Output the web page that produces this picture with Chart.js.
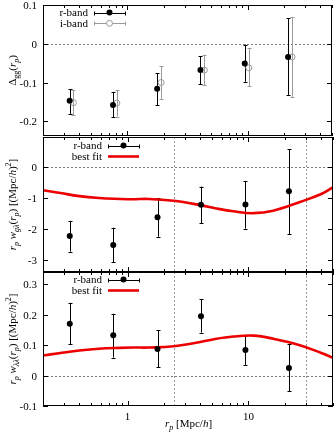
<!DOCTYPE html>
<html>
<head>
<meta charset="utf-8">
<script src="https://cdn.jsdelivr.net/npm/chart.js@4.4.1/dist/chart.umd.min.js"></script>
<style>
  html, body { margin: 0; padding: 0; background: #fff; }
  #wrap { position: relative; width: 336px; height: 432px; }
  canvas { position: absolute; left: 0; }
</style>
</head>
<body>
<div id="wrap">
  <canvas id="c1" width="336" height="140" style="top:0px"></canvas>
  <canvas id="c2" width="336" height="141" style="top:134px"></canvas>
  <canvas id="c3" width="336" height="163" style="top:269px"></canvas>
</div>
<script>
// projected separation bins (Mpc/h)
const rpR = [0.333, 0.762, 1.77, 4.05, 9.44, 21.6];
const rpI = [0.358, 0.82, 1.91, 4.37, 10.2, 23.3];

// top panel: Delta_gg
const deltaR   = [-0.147, -0.158, -0.116, -0.068, -0.051, -0.034];
const deltaRlo = [-0.181, -0.190, -0.158, -0.104, -0.098, -0.132];
const deltaRhi = [-0.117, -0.124, -0.076, -0.032, -0.002, 0.066];
const deltaI   = [-0.152, -0.153, -0.100, -0.068, -0.062, -0.034];
const deltaIlo = [-0.184, -0.188, -0.142, -0.107, -0.110, -0.137];
const deltaIhi = [-0.120, -0.120, -0.058, -0.028, -0.012, 0.069];

// middle panel: r_p w_g lambda
const wgl   = [-2.23, -2.52, -1.62, -1.22, -1.21, -0.78];
const wglLo = [-2.73, -3.08, -2.25, -1.82, -1.99, -2.17];
const wglHi = [-1.74, -1.96, -1.00, -0.63, -0.45, 0.58];

// bottom panel: r_p w_lambda lambda
const wll   = [0.170, 0.132, 0.087, 0.195, 0.084, 0.025];
const wllLo = [0.103, 0.059, 0.028, 0.141, 0.035, -0.052];
const wllHi = [0.239, 0.203, 0.148, 0.250, 0.129, 0.102];

// best fit curves
const fitRp  = [0.2, 0.27, 0.4, 0.58, 0.86, 1.1, 1.5, 2.4, 4.0, 5.3, 7.5, 11, 16, 27, 40, 50];
const fitWgl = [-0.75, -0.83, -0.94, -1.00, -1.03, -1.04, -1.03, -1.09, -1.23, -1.33, -1.43, -1.49, -1.41, -1.12, -0.87, -0.65];
const fitWll = [0.066, 0.073, 0.082, 0.088, 0.091, 0.092, 0.092, 0.096, 0.110, 0.120, 0.128, 0.131, 0.121, 0.099, 0.074, 0.058];

// fit range limits
const cutLines = [2.4, 30];

const xTicks  = [1, 10];
const yTicks1 = [0.1, 0, -0.1, -0.2];
const yTicks2 = [0, -1, -2, -3];
const yTicks3 = [0.3, 0.2, 0.1, 0, -0.1];

const FONT = '"Liberation Serif", "DejaVu Serif", serif';
const RED = 'rgb(236,0,0)';
const GREY = '#9a9a9a';

function fontFor(s, size) {
  const sz = (s.sub || s.sup) ? Math.round(size * 0.75) : size;
  return (s.i ? 'italic ' : '') + sz + 'px ' + FONT;
}
function richWidth(ctx, segs, size) {
  let w = 0;
  segs.forEach(s => { ctx.font = fontFor(s, size); w += ctx.measureText(s.t).width; });
  return w;
}
function drawRich(ctx, segs, x, y, size) {
  segs.forEach(s => {
    ctx.font = fontFor(s, size);
    const dy = s.sub ? size * 0.3 : (s.sup ? -size * 0.42 : 0);
    ctx.fillText(s.t, x, y + dy);
    x += ctx.measureText(s.t).width;
  });
}

const unitSegs = [{t: ' [(Mpc/'}, {t: 'h', i: true}, {t: ')'}, {t: '2', sup: true}, {t: ']'}];
const title1 = [{t: 'Δ'}, {t: 'gg', sub: true}, {t: '('}, {t: 'r', i: true}, {t: 'p', i: true, sub: true}, {t: ')'}];
const title2 = [{t: 'r', i: true}, {t: 'p', i: true, sub: true}, {t: ' '}, {t: 'w', i: true}, {t: 'gλ', i: true, sub: true},
  {t: '('}, {t: 'r', i: true}, {t: 'p', i: true, sub: true}, {t: ')'}].concat(unitSegs);
const title3 = [{t: 'r', i: true}, {t: 'p', i: true, sub: true}, {t: ' '}, {t: 'w', i: true}, {t: 'λλ', i: true, sub: true},
  {t: '('}, {t: 'r', i: true}, {t: 'p', i: true, sub: true}, {t: ')'}].concat(unitSegs);
const xTitle = [{t: 'r', i: true}, {t: 'p', i: true, sub: true}, {t: ' [Mpc/'}, {t: 'h', i: true}, {t: ']'}];

const panels = [
  { id: 'c1', top: 5, bottom: 137, ymin: -0.238, ymax: 0.1, yTicks: yTicks1, title: title1, cuts: false, xLabels: false,
    series: [
      { x: rpR, y: deltaR, lo: deltaRlo, hi: deltaRhi, color: '#000', open: false, label: 'r-band' },
      { x: rpI, y: deltaI, lo: deltaIlo, hi: deltaIhi, color: GREY, open: true, label: 'i-band' }
    ],
    fit: null, legX: 88, legY: [7.5, 18.3] },
  { id: 'c2', top: 3, bottom: 138, ymin: -3.39, ymax: 0.97, yTicks: yTicks2, title: title2, cuts: true, xLabels: false,
    series: [ { x: rpR, y: wgl, lo: wglLo, hi: wglHi, color: '#000', open: false, label: 'r-band' } ],
    fit: fitWgl, legX: 102, legY: [8.5, 19.5] },
  { id: 'c3', top: 3, bottom: 137, ymin: -0.1, ymax: 0.34, yTicks: yTicks3, title: title3, cuts: true, xLabels: true,
    series: [ { x: rpR, y: wll, lo: wllLo, hi: wllHi, color: '#000', open: false, label: 'r-band' } ],
    fit: fitWll, legX: 102, legY: [7.5, 18.5] }
];

function hline(ctx, x1, x2, y) { ctx.beginPath(); ctx.moveTo(x1, y); ctx.lineTo(x2, y); ctx.stroke(); }
function vline(ctx, x, y1, y2) { ctx.beginPath(); ctx.moveTo(x, y1); ctx.lineTo(x, y2); ctx.stroke(); }

function panelPlugin(p) {
  return {
    id: 'panel_' + p.id,
    beforeDatasetsDraw(chart) {
      const { ctx, chartArea: a, scales: { x, y } } = chart;
      ctx.save();
      ctx.lineWidth = 1;
      ctx.setLineDash([2, 2]);
      ctx.strokeStyle = '#777';
      hline(ctx, a.left, a.right, Math.round(y.getPixelForValue(0)) + 0.5);
      if (p.cuts) {
        ctx.strokeStyle = '#999';
        cutLines.forEach(v => vline(ctx, Math.round(x.getPixelForValue(v)) + 0.5, a.top, a.bottom));
      }
      ctx.setLineDash([]);
      // error bars
      p.series.forEach(s => {
        ctx.strokeStyle = s.color;
        ctx.lineWidth = 1;
        s.x.forEach((xv, i) => {
          const px = Math.round(x.getPixelForValue(xv)) + 0.5;
          const ylo = y.getPixelForValue(s.lo[i]);
          const yhi = y.getPixelForValue(s.hi[i]);
          vline(ctx, px, ylo, yhi);
          hline(ctx, px - 2, px + 2, Math.round(ylo) + 0.5);
          hline(ctx, px - 2, px + 2, Math.round(yhi) + 0.5);
        });
      });
      ctx.restore();
    },
    afterDraw(chart) {
      const { ctx, chartArea: a, scales: { x, y } } = chart;
      ctx.save();
      // frame
      ctx.strokeStyle = '#000';
      ctx.lineWidth = 1;
      ctx.strokeRect(Math.round(a.left) + 0.5, Math.round(a.top) + 0.5,
        Math.round(a.right - a.left) - 1, Math.round(a.bottom - a.top) - 1);
      // log ticks on top and bottom
      for (let d = -1; d <= 2; d++) {
        for (let k = 1; k <= 9; k++) {
          const v = k * Math.pow(10, d);
          if (v < x.min || v > x.max) continue;
          const px = Math.round(x.getPixelForValue(v)) + 0.5;
          const len = k === 1 ? 5 : 3;
          vline(ctx, px, a.top, a.top + len);
          vline(ctx, px, a.bottom, a.bottom - len);
        }
      }
      // y ticks on both sides
      ctx.fillStyle = '#000';
      ctx.font = '11px ' + FONT;
      ctx.textAlign = 'right';
      p.yTicks.forEach(v => {
        const py = Math.round(y.getPixelForValue(v)) + 0.5;
        hline(ctx, a.left, a.left + 5, py);
        hline(ctx, a.right - 5, a.right, py);
        ctx.fillText(String(+v.toFixed(2)), a.left - 6, py + 3.5);
      });
      // x tick labels
      if (p.xLabels) {
        ctx.textAlign = 'center';
        xTicks.forEach(v => ctx.fillText(String(v), x.getPixelForValue(v), a.bottom + 13.5));
        ctx.textAlign = 'left';
        const w = richWidth(ctx, xTitle, 11);
        drawRich(ctx, xTitle, (a.left + a.right) / 2 + 0.5 - w / 2, a.bottom + 21, 11);
      }
      // y title
      ctx.textAlign = 'left';
      const tw = richWidth(ctx, p.title, 11);
      ctx.save();
      ctx.translate(15.5, (a.top + a.bottom) / 2);
      ctx.rotate(-Math.PI / 2);
      drawRich(ctx, p.title, -tw / 2, 0, 11);
      ctx.restore();
      // legend
      const entries = p.series.map(s => ({ label: s.label, s }));
      if (p.fit) entries.push({ label: 'best fit', fit: true });
      const sx1 = p.legX + 6, sx2 = p.legX + 37, sxm = (sx1 + sx2) / 2;
      entries.forEach((e, i) => {
        const ly = a.top + p.legY[i];
        ctx.fillStyle = '#000';
        ctx.font = '11px ' + FONT;
        ctx.textAlign = 'right';
        ctx.fillText(e.label, p.legX, ly + 3.5);
        const yy = Math.round(ly) + 0.5;
        if (e.fit) {
          ctx.strokeStyle = RED;
          ctx.lineWidth = 2.6;
          hline(ctx, sx1, sx2, ly);
        } else {
          ctx.strokeStyle = e.s.color;
          ctx.lineWidth = 1;
          hline(ctx, sx1, sx2, yy);
          vline(ctx, Math.round(sx1) + 0.5, yy - 2, yy + 2);
          vline(ctx, Math.round(sx2) + 0.5, yy - 2, yy + 2);
          ctx.beginPath();
          ctx.arc(sxm, ly, 3, 0, Math.PI * 2);
          if (e.s.open) {
            ctx.fillStyle = '#fff';
            ctx.fill();
            ctx.stroke();
          } else {
            ctx.fillStyle = e.s.color;
            ctx.fill();
          }
        }
      });
      ctx.restore();
    }
  };
}

function makeChart(p) {
  const canvas = document.getElementById(p.id);
  const datasets = p.series.map(s => ({
    label: s.label,
    data: s.x.map((v, i) => ({ x: v, y: s.y[i] })),
    showLine: false,
    pointRadius: 3,
    pointHoverRadius: 3,
    pointBackgroundColor: s.open ? 'rgba(255,255,255,0)' : s.color,
    pointBorderColor: s.color,
    pointBorderWidth: s.open ? 1 : 0
  }));
  if (p.fit) {
    datasets.push({
      label: 'best fit',
      data: fitRp.map((v, i) => ({ x: v, y: p.fit[i] })),
      showLine: true,
      borderColor: RED,
      borderWidth: 2.6,
      pointRadius: 0,
      tension: 0.4,
      fill: false
    });
  }
  return new Chart(canvas.getContext('2d'), {
    type: 'scatter',
    data: { datasets },
    options: {
      responsive: false,
      animation: false,
      events: [],
      layout: { padding: { left: 0, right: 3, top: p.top, bottom: 0 } },
      plugins: { legend: { display: false }, tooltip: { enabled: false } },
      scales: {
        x: {
          type: 'logarithmic', min: 0.2, max: 50,
          ticks: { display: false }, grid: { display: false }, border: { display: false },
          afterFit(s) { s.height = canvas.height - p.bottom; }
        },
        y: {
          type: 'linear', min: p.ymin, max: p.ymax,
          ticks: { display: false }, grid: { display: false }, border: { display: false },
          afterFit(s) { s.width = 43; }
        }
      }
    },
    plugins: [panelPlugin(p)]
  });
}

panels.forEach(makeChart);
</script>
</body>
</html>
